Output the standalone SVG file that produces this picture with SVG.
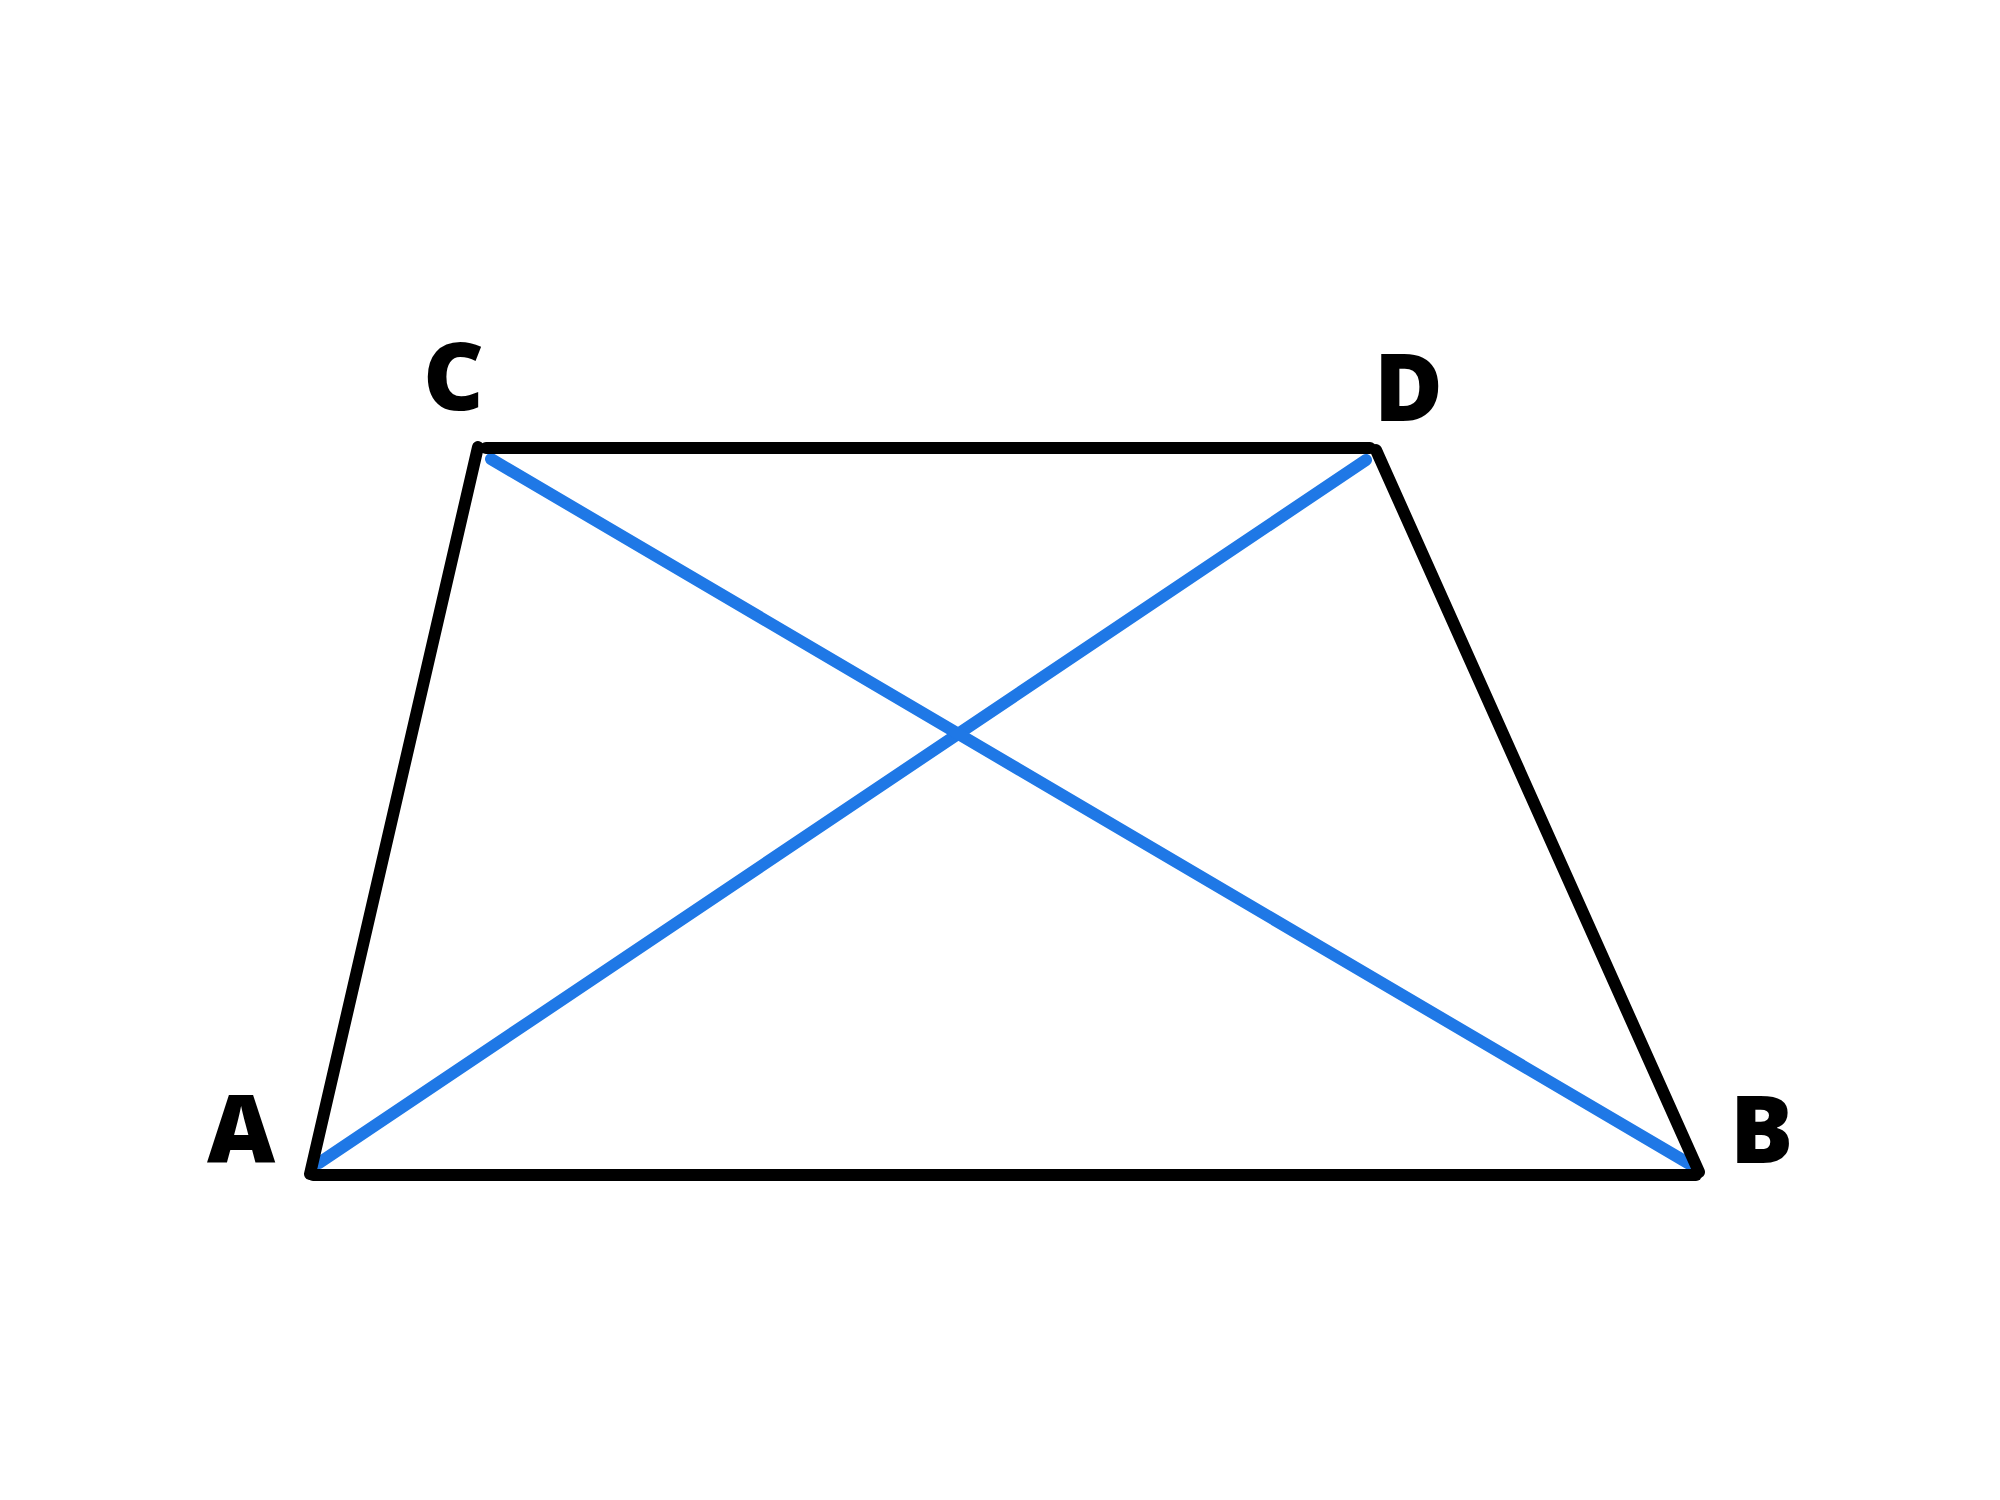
<svg xmlns="http://www.w3.org/2000/svg" width="2000" height="1500" viewBox="0 0 2000 1500">
<style>
.edge{stroke:#000;stroke-width:12;stroke-linecap:round;fill:none}
.diag{stroke:#1F78E6;stroke-width:12;stroke-linecap:round;fill:none}
.lbl{font-family:"Open Sans","DejaVu Sans",sans-serif;font-weight:800;font-size:94px;fill:#000}
</style>
<rect width="2000" height="1500" fill="#fff"/>
<g id="connectors">
<line class="diag" x1="319" y1="1163" x2="1366" y2="460"/>
<line class="diag" x1="491" y1="459" x2="1693" y2="1166"/>
<line class="edge" x1="310" y1="1174" x2="478" y2="447"/>
<line class="edge" x1="486" y1="448" x2="1370" y2="448"/>
<line class="edge" x1="1376" y1="450" x2="1699" y2="1172"/>
<line class="edge" x1="313" y1="1175" x2="1696" y2="1175"/>
</g>
<g id="node-C"><text class="lbl" x="423" y="410">C</text></g>
<g id="node-D"><text class="lbl" x="1374" y="421">D</text></g>
<g id="node-A"><text class="lbl" x="207" y="1163">A</text></g>
<g id="node-B"><text class="lbl" x="1730" y="1163">B</text></g>
</svg>
